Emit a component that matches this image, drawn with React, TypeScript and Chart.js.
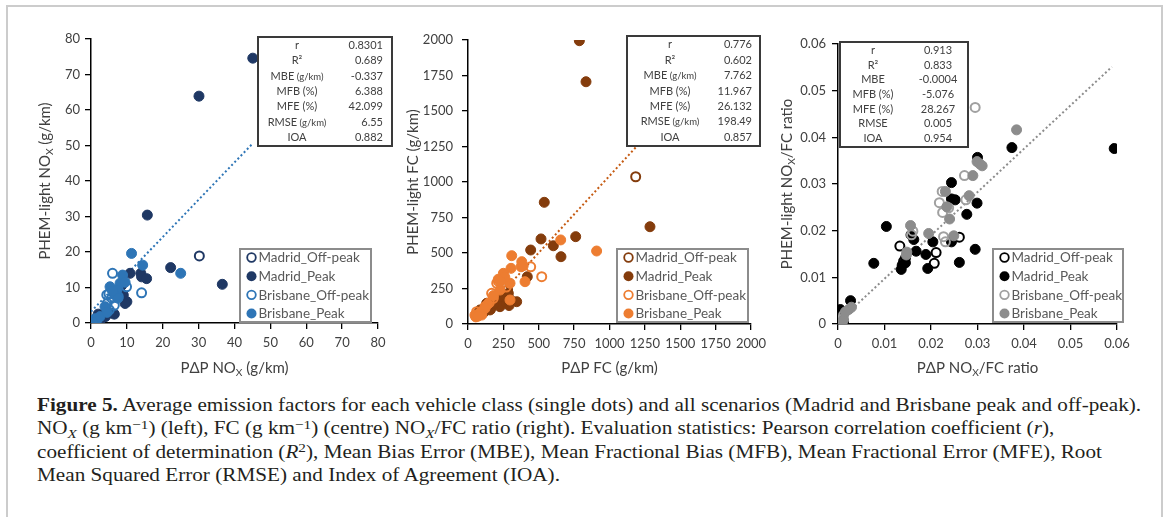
import React, { useEffect, useRef } from 'react';
import { Chart, registerables } from 'chart.js';

Chart.register(...registerables);

type Pt = [number, number];

// ---------- Panel 1: NOx (g/km) ----------
const noxMadridOffPeak: Pt[] = [[30.2, 18.9], [2.0, 1.0], [1.0, 0.6], [3.0, 2.0], [0.5, 0.2], [4.0, 2.5]];
const noxMadridPeak: Pt[] = [
  [45.1, 74.6], [30.1, 63.9], [15.7, 30.4], [22.2, 15.6], [36.6, 10.9], [10.9, 14.0], [13.9, 14.0],
  [14.1, 13.0], [15.5, 12.5], [9.0, 7.9], [10.0, 6.0], [9.5, 5.5], [8.5, 10.5], [6.5, 2.5], [5.5, 2.8],
  [3.4, 2.3], [2.0, 2.5], [2.0, 1.3], [1.5, 1.0], [1.0, 0.5], [3.0, 1.3], [4.0, 1.8], [0.5, 0.3], [2.5, 2.0],
];
const noxBrisbaneOffPeak: Pt[] = [
  [6.0, 14.0], [14.1, 8.5], [4.4, 7.9], [5.8, 7.0], [7.6, 7.4], [4.5, 5.5], [5.1, 3.7], [9.9, 10.2],
  [5.0, 8.3], [1.0, 0.8], [0.4, 0.3], [6.5, 5.0],
];
const noxBrisbanePeak: Pt[] = [
  [11.3, 19.6], [14.4, 16.3], [25.0, 14.0], [8.8, 13.5], [8.1, 11.2], [5.3, 10.2], [7.2, 9.3], [3.9, 4.6],
  [6.5, 8.0], [7.5, 7.0], [9.5, 11.5], [6.0, 9.0], [1.6, 0.8], [0.2, 0.1], [0.8, 0.5], [1.2, 1.2],
  [2.5, 1.8], [4.5, 3.0], [0.5, 0.2],
];
const noxTrend: Pt[] = [[0, 3.2], [45.1, 50.6]];
const noxTickLabels = ['0', '10', '20', '30', '40', '50', '60', '70', '80'];
const noxStatLabels = ['r', 'R²', 'MBE (g/km)', 'MFB (%)', 'MFE (%)', 'RMSE (g/km)', 'IOA'];
const noxStatValues = ['0.8301', '0.689', '-0.337', '6.388', '42.099', '6.55', '0.882'];

// ---------- Panel 2: FC (g/km) ----------
const fcMadridOffPeak: Pt[] = [[1185, 1037], [130, 120], [90, 85], [200, 150], [280, 240], [160, 105], [60, 60]];
const fcMadridPeak: Pt[] = [
  [787, 1995], [834, 1706], [539, 857], [1286, 685], [761, 615], [516, 599], [603, 551], [657, 474],
  [443, 521], [419, 333], [344, 157], [261, 204], [285, 216], [238, 181], [203, 157], [132, 146],
  [85, 99], [155, 99], [226, 122], [273, 146], [290, 130], [300, 170], [110, 80], [70, 75], [180, 140],
];
const fcBrisbaneOffPeak: Pt[] = [
  [443, 403], [521, 333], [203, 287], [238, 287], [167, 216], [179, 181], [120, 122], [61, 87],
  [270, 260], [215, 300], [100, 90], [150, 150],
];
const fcBrisbanePeak: Pt[] = [
  [909, 514], [655, 592], [309, 481], [380, 439], [375, 403], [403, 298], [304, 392], [214, 315],
  [250, 357], [297, 287], [226, 239], [297, 169], [49, 63], [97, 63], [55, 50], [140, 140], [120, 110],
  [80, 75], [180, 200], [260, 330], [230, 300], [390, 410], [70, 55],
];
const fcTrend: Pt[] = [[55, 20], [1265, 1330]];
const fcTickLabels = ['0', '250', '500', '750', '1000', '1250', '1500', '1750', '2000'];
const fcStatLabels = ['r', 'R²', 'MBE (g/km)', 'MFB (%)', 'MFE (%)', 'RMSE (g/km)', 'IOA'];
const fcStatValues = ['0.776', '0.602', '7.762', '11.967', '26.132', '198.49', '0.857'];

// ---------- Panel 3: NOx/FC ratio ----------
const ratioMadridOffPeak: Pt[] = [
  [0.0133, 0.0167], [0.0211, 0.0153], [0.0207, 0.013], [0.0261, 0.0186], [0.0145, 0.0141],
  [0.0141, 0.0134], [0.0005, 0.0012], [0.0012, 0.0005],
];
const ratioMadridPeak: Pt[] = [
  [0.0594, 0.0376], [0.0374, 0.0378], [0.03, 0.0357], [0.0244, 0.0303], [0.0244, 0.0268],
  [0.0252, 0.0266], [0.0299, 0.0259], [0.0277, 0.0235], [0.0104, 0.0209], [0.0077, 0.013],
  [0.0157, 0.0191], [0.0163, 0.0181], [0.0168, 0.0156], [0.0204, 0.0176], [0.0244, 0.0176],
  [0.0189, 0.0149], [0.0193, 0.0119], [0.0136, 0.0117], [0.0138, 0.0126], [0.0145, 0.0131],
  [0.0261, 0.0132], [0.0295, 0.016], [0.0027, 0.005], [0.0005, 0.0031], [0.0009, 0.0023], [0.0001, 0.0005],
];
const ratioBrisbaneOffPeak: Pt[] = [
  [0.0295, 0.0464], [0.0272, 0.0318], [0.0224, 0.0284], [0.0218, 0.026], [0.0225, 0.0239],
  [0.0238, 0.0249], [0.0275, 0.0266], [0.0227, 0.0187], [0.0231, 0.0176], [0.0161, 0.0199],
  [0.0158, 0.0191], [0.0009, 0.001], [0.0012, 0.0019],
];
const ratioBrisbanePeak: Pt[] = [
  [0.0384, 0.0416], [0.0299, 0.0348], [0.0305, 0.0343], [0.031, 0.0339], [0.029, 0.0318],
  [0.0282, 0.0275], [0.0231, 0.0284], [0.0234, 0.0251], [0.024, 0.0225], [0.0249, 0.0189],
  [0.0156, 0.0211], [0.0195, 0.0194], [0.0148, 0.0154], [0.0147, 0.0148], [0.0023, 0.0031],
  [0.0029, 0.0036], [0.0012, 0.0009], [0.0009, 0.0003], [0.0016, 0.0026],
];
const ratioTrend: Pt[] = [[0.0001, 0.0005], [0.0589, 0.0551]];
const ratioTickLabels = ['0', '0.01', '0.02', '0.03', '0.04', '0.05', '0.06'];
const ratioStatLabels = ['r', 'R²', 'MBE', 'MFB (%)', 'MFE (%)', 'RMSE', 'IOA'];
const ratioStatValues = ['0.913', '0.833', '-0.0004', '-5.076', '28.267', '0.005', '0.954'];

const seriesNames = ['Madrid_Off-peak', 'Madrid_Peak', 'Brisbane_Off-peak', 'Brisbane_Peak'];
const seriesOpen = [true, false, true, false];

// ---------- drawing helpers ----------
const FONT = 'Lato, "Open Sans", sans-serif';
type Seg = { t: string; sub?: boolean };

function richWidth(ctx: CanvasRenderingContext2D, segs: Seg[], size: number) {
  let w = 0;
  for (const s of segs) {
    ctx.font = `${s.sub ? size * 0.68 : size}px ${FONT}`;
    w += ctx.measureText(s.t).width;
  }
  return w;
}

function drawRich(ctx: CanvasRenderingContext2D, segs: Seg[], cx: number, cy: number, size: number, color: string) {
  const w = richWidth(ctx, segs, size);
  let x = cx - w / 2;
  ctx.fillStyle = color;
  ctx.textBaseline = 'middle';
  ctx.textAlign = 'left';
  for (const s of segs) {
    const sz = s.sub ? size * 0.68 : size;
    ctx.font = `${sz}px ${FONT}`;
    ctx.fillText(s.t, x, s.sub ? cy + size * 0.3 : cy);
    x += ctx.measureText(s.t).width;
  }
}

type Box = { x: number; y: number; w: number; h: number };

type PanelCfg = {
  id: string;
  canvas: { left: number; top: number; w: number; h: number };
  area: { top: number; right: number; yw: number; xh: number };
  min: number;
  max: number;
  step: number;
  ticks: string[];
  yPad: number;
  xPad: number;
  series: Pt[][];
  colors: string[];
  trend: Pt[];
  trendColor: string;
  statLabels: string[];
  statValues: string[];
  statBox: Box;
  labelCx: number;
  valueAlign: 'right' | 'center';
  valueOff: number;
  legendBox: Box;
  yTitle: Seg[];
  yTitleX: number;
  xTitle: Seg[];
  xTitleY: number;
};

const TEXT = '#404040';

const panels: PanelCfg[] = [
  {
    id: 'nox',
    canvas: { left: 8, top: 8, w: 392, h: 372 },
    area: { top: 31, right: 22, yw: 83, xh: 57 },
    min: 0, max: 80, step: 10, ticks: noxTickLabels, yPad: 5, xPad: 6,
    series: [noxMadridOffPeak, noxMadridPeak, noxBrisbaneOffPeak, noxBrisbanePeak],
    colors: ['#1f3864', '#1f3864', '#2e75b6', '#2e75b6'],
    trend: noxTrend, trendColor: '#2e75b6',
    statLabels: noxStatLabels, statValues: noxStatValues,
    statBox: { x: 250, y: 29, w: 134, h: 109 }, labelCx: 39, valueAlign: 'right', valueOff: 9,
    legendBox: { x: 232, y: 241, w: 131, h: 73 },
    yTitle: [{ t: 'PHEM-light NO' }, { t: 'X', sub: true }, { t: ' (g/km)' }], yTitleX: 37,
    xTitle: [{ t: 'PΔP NO' }, { t: 'X', sub: true }, { t: ' (g/km)' }], xTitleY: 360,
  },
  {
    id: 'fc',
    canvas: { left: 395, top: 8, w: 380, h: 372 },
    area: { top: 32, right: 24, yw: 73, xh: 56 },
    min: 0, max: 2000, step: 250, ticks: fcTickLabels, yPad: 9, xPad: 6,
    series: [fcMadridOffPeak, fcMadridPeak, fcBrisbaneOffPeak, fcBrisbanePeak],
    colors: ['#843c0c', '#843c0c', '#ed7d31', '#ed7d31'],
    trend: fcTrend, trendColor: '#c55a11',
    statLabels: fcStatLabels, statValues: fcStatValues,
    statBox: { x: 232, y: 28, w: 133, h: 110 }, labelCx: 43, valueAlign: 'right', valueOff: 8,
    legendBox: { x: 222, y: 241, w: 131, h: 73 },
    yTitle: [{ t: 'PHEM-light FC (g/km)' }], yTitleX: 18,
    xTitle: [{ t: 'PΔP FC (g/km)' }], xTitleY: 360,
  },
  {
    id: 'ratio',
    canvas: { left: 770, top: 8, w: 390, h: 372 },
    area: { top: 36, right: 43, yw: 68, xh: 56 },
    min: 0, max: 0.06, step: 0.01, ticks: ratioTickLabels, yPad: 6, xPad: 6,
    series: [ratioMadridOffPeak, ratioMadridPeak, ratioBrisbaneOffPeak, ratioBrisbanePeak],
    colors: ['#000000', '#000000', '#a0a0a0', '#8c8c8c'],
    trend: ratioTrend, trendColor: '#8c8c8c',
    statLabels: ratioStatLabels, statValues: ratioStatValues,
    statBox: { x: 70, y: 34, w: 128, h: 105 }, labelCx: 33, valueAlign: 'center', valueOff: 98,
    legendBox: { x: 223, y: 241, w: 130, h: 73 },
    yTitle: [{ t: 'PHEM-light NO' }, { t: 'X', sub: true }, { t: '/FC ratio' }], yTitleX: 17,
    xTitle: [{ t: 'PΔP NO' }, { t: 'X', sub: true }, { t: '/FC ratio' }], xTitleY: 360,
  },
];

function drawStats(ctx: CanvasRenderingContext2D, p: PanelCfg) {
  const b = p.statBox;
  ctx.save();
  ctx.fillStyle = '#ffffff';
  ctx.fillRect(b.x, b.y, b.w, b.h);
  ctx.strokeStyle = '#3a3a3a';
  ctx.lineWidth = 2;
  ctx.strokeRect(b.x, b.y, b.w, b.h);
  const n = p.statLabels.length;
  const rowH = (b.h - 2) / n;
  ctx.textBaseline = 'middle';
  ctx.fillStyle = TEXT;
  for (let i = 0; i < n; i++) {
    const cy = b.y + 1 + rowH * (i + 0.5);
    const lab = p.statLabels[i];
    const m = lab.match(/^(.*?)( \(g\/km\))$/);
    const main = m ? m[1] : lab;
    const unit = m ? m[2] : '';
    ctx.font = `11px ${FONT}`;
    const w1 = ctx.measureText(main).width;
    ctx.font = `9.5px ${FONT}`;
    const w2 = unit ? ctx.measureText(unit).width : 0;
    const x = b.x + p.labelCx - (w1 + w2) / 2;
    ctx.textAlign = 'left';
    ctx.font = `11px ${FONT}`;
    ctx.fillText(main, x, cy);
    if (unit) {
      ctx.font = `9.5px ${FONT}`;
      ctx.fillText(unit, x + w1, cy + 0.5);
    }
    ctx.font = `11px ${FONT}`;
    if (p.valueAlign === 'right') {
      ctx.textAlign = 'right';
      ctx.fillText(p.statValues[i], b.x + b.w - p.valueOff, cy);
    } else {
      ctx.textAlign = 'center';
      ctx.fillText(p.statValues[i], b.x + p.valueOff, cy);
    }
  }
  ctx.restore();
}

function drawLegend(ctx: CanvasRenderingContext2D, p: PanelCfg) {
  const b = p.legendBox;
  ctx.save();
  ctx.fillStyle = '#ffffff';
  ctx.fillRect(b.x, b.y, b.w, b.h);
  ctx.strokeStyle = '#8c8c8c';
  ctx.lineWidth = 2;
  ctx.strokeRect(b.x, b.y, b.w, b.h);
  const spacing = (b.h - 17) / 3;
  for (let i = 0; i < seriesNames.length; i++) {
    const cy = b.y + 8.5 + i * spacing;
    const cx = b.x + 11.5;
    ctx.beginPath();
    if (seriesOpen[i]) {
      ctx.arc(cx, cy, 4.3, 0, Math.PI * 2);
      ctx.strokeStyle = p.colors[i];
      ctx.lineWidth = 1.8;
      ctx.stroke();
    } else {
      ctx.arc(cx, cy, 5, 0, Math.PI * 2);
      ctx.fillStyle = p.colors[i];
      ctx.fill();
    }
    ctx.fillStyle = '#595959';
    ctx.font = `13.5px ${FONT}`;
    ctx.textAlign = 'left';
    ctx.textBaseline = 'middle';
    ctx.fillText(seriesNames[i], b.x + 18.5, cy + 0.5);
  }
  ctx.restore();
}

function Panel({ p }: { p: PanelCfg }) {
  const ref = useRef<HTMLCanvasElement | null>(null);
  useEffect(() => {
    if (!ref.current) return;
    const order = [3, 2, 1, 0];
    const datasets: any[] = p.series.map((s, i) => ({
      label: seriesNames[i],
      data: s.map(([x, y]) => ({ x, y })),
      showLine: false,
      pointStyle: 'circle',
      pointRadius: seriesOpen[i] ? 4.5 : 5,
      pointBorderWidth: seriesOpen[i] ? 2 : 1,
      pointBackgroundColor: seriesOpen[i] ? 'rgba(255,255,255,0)' : p.colors[i],
      pointBorderColor: p.colors[i],
      order: order[i],
    }));
    datasets.push({
      label: 'trend',
      data: p.trend.map(([x, y]) => ({ x, y })),
      showLine: true,
      pointRadius: 0,
      borderColor: p.trendColor,
      borderWidth: 2,
      borderDash: [2, 2.5],
      fill: false,
      order: 5,
    });
    const tickFont = { family: FONT, size: 13 };
    const grid = { drawOnChartArea: false, drawTicks: true, tickLength: 6, color: '#000000', lineWidth: 1.3 };
    const border = { display: true, color: '#000000', width: 1.5 };
    const plugin = {
      id: 'extras-' + p.id,
      afterDraw(chart: any) {
        const ctx: CanvasRenderingContext2D = chart.ctx;
        const a = chart.chartArea;
        ctx.save();
        ctx.translate(p.yTitleX, (a.top + a.bottom) / 2);
        ctx.rotate(-Math.PI / 2);
        drawRich(ctx, p.yTitle, 0, 0, 15, TEXT);
        ctx.restore();
        ctx.save();
        drawRich(ctx, p.xTitle, (a.left + a.right) / 2, p.xTitleY, 15, TEXT);
        ctx.restore();
        drawStats(ctx, p);
        drawLegend(ctx, p);
      },
    };
    const chart = new Chart(ref.current, {
      type: 'scatter',
      data: { datasets },
      options: {
        responsive: false,
        animation: false,
        events: [],
        layout: { autoPadding: false, padding: { top: p.area.top, right: p.area.right, left: 0, bottom: 0 } },
        plugins: { legend: { display: false }, tooltip: { enabled: false } },
        scales: {
          x: {
            type: 'linear',
            min: p.min,
            max: p.max,
            ticks: {
              stepSize: p.step,
              autoSkip: false,
              maxRotation: 0,
              padding: p.xPad,
              color: TEXT,
              font: tickFont,
              callback: (_v: any, i: number) => p.ticks[i],
            },
            grid,
            border,
            afterFit: (s: any) => { s.height = p.area.xh; },
          },
          y: {
            type: 'linear',
            min: p.min,
            max: p.max,
            ticks: {
              stepSize: p.step,
              autoSkip: false,
              padding: p.yPad,
              color: TEXT,
              font: tickFont,
              callback: (_v: any, i: number) => p.ticks[i],
            },
            grid,
            border,
            afterFit: (s: any) => { s.width = p.area.yw; },
          },
        },
      } as any,
      plugins: [plugin],
    });
    return () => chart.destroy();
  }, [p]);
  return (
    <canvas
      ref={ref}
      width={p.canvas.w}
      height={p.canvas.h}
      style={{ position: 'absolute', left: p.canvas.left, top: p.canvas.top, width: p.canvas.w, height: p.canvas.h }}
    />
  );
}

const Sub = ({ children }: { children: React.ReactNode }) => (
  <span style={{ fontSize: '0.72em', position: 'relative', top: '0.28em', lineHeight: 0 }}>{children}</span>
);
const Sup = ({ children }: { children: React.ReactNode }) => (
  <span style={{ fontSize: '0.72em', position: 'relative', top: '-0.4em', lineHeight: 0 }}>{children}</span>
);

export default function App() {
  return (
    <div style={{ position: 'absolute', left: 0, top: 0, width: 1170, height: 517, overflow: 'hidden', background: '#ffffff' }}>
      <div
        style={{
          position: 'absolute', left: 6, top: 5, width: 1153, height: 520,
          borderTop: '2px solid #cccccc', borderLeft: '2px solid #cccccc', borderRight: '2px solid #cccccc',
        }}
      />
      {panels.map((p) => <Panel key={p.id} p={p} />)}
      <div
        style={{
          position: 'absolute', left: 37, top: 394, whiteSpace: 'nowrap',
          fontFamily: '"Liberation Serif", "Times New Roman", serif', fontSize: 18.5, lineHeight: '23.3px', color: '#231f20',
          transform: 'scaleX(1.145)', transformOrigin: '0 0',
        }}
      >
        <div><b>Figure 5.</b> Average emission factors for each vehicle class (single dots) and all scenarios (Madrid and Brisbane peak and off-peak).</div>
        <div>NO<Sub><i>X</i></Sub> (g km<Sup>−1</Sup>) (left), FC (g km<Sup>−1</Sup>) (centre) NO<Sub><i>X</i></Sub>/FC ratio (right). Evaluation statistics: Pearson correlation coefficient (<i>r</i>),</div>
        <div>coefficient of determination (<i>R</i><Sup>2</Sup>), Mean Bias Error (MBE), Mean Fractional Bias (MFB), Mean Fractional Error (MFE), Root</div>
        <div>Mean Squared Error (RMSE) and Index of Agreement (IOA).</div>
      </div>
    </div>
  );
}
